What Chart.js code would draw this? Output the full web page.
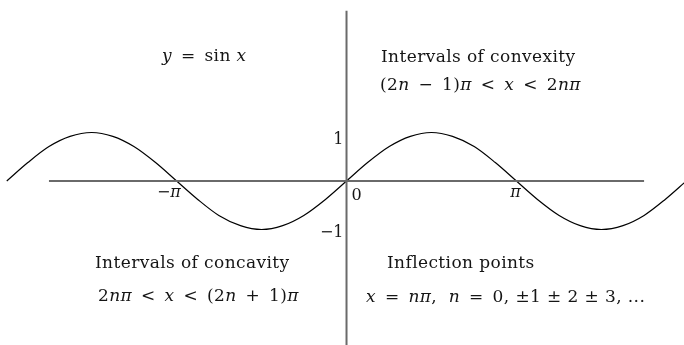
<!DOCTYPE html>
<html>
<head>
<meta charset="utf-8">
<script src="https://cdn.jsdelivr.net/npm/chart.js"></script>
<style>
  html, body { margin: 0; padding: 0; background: #fff; }
  canvas { display: block; }
</style>
</head>
<body>
<canvas id="sineChart" width="684" height="345"></canvas>
<script>
// curve y = sin x, read at pi/8 steps
var curveX = [-6.28, -5.89, -5.50, -5.11, -4.71, -4.32, -3.93, -3.53, -3.14, -2.75, -2.36, -1.96, -1.57, -1.18, -0.79, -0.39,
              0, 0.39, 0.79, 1.18, 1.57, 1.96, 2.36, 2.75, 3.14, 3.53, 3.93, 4.32, 4.71, 5.11, 5.50, 5.89, 6.28];
var curveY = [0, 0.38, 0.71, 0.92, 1, 0.92, 0.71, 0.38, 0, -0.38, -0.71, -0.92, -1, -0.92, -0.71, -0.38,
              0, 0.38, 0.71, 0.92, 1, 0.92, 0.71, 0.38, 0, -0.38, -0.71, -0.92, -1, -0.92, -0.71, -0.38, 0];

// drawn axis extents (data units)
var xAxisEnds = [-5.5, 5.5];
var yAxisEnds = [3.51, -3.4];

// tick labels
var xTickValues = [-3.14159, 0, 3.14159];
var xTickLabels = ['−{π}', '0', '{π}'];
var yTickValues = [1, -1];
var yTickLabels = ['1', '−1'];

// annotation lines ({...} = italic, \u2002 = math spacing)
var noteLines = [
    '{y}\u2002=\u2002sin {x}',
    'Intervals of convexity',
    '(2{n}\u2002−\u20021){π}\u2002<\u2002{x}\u2002<\u20022{nπ}',
    'Intervals of concavity',
    '2{nπ}\u2002<\u2002{x}\u2002<\u2002(2{n}\u2002+\u20021){π}',
    'Inflection points',
    '{x}\u2002=\u2002{nπ},  {n}\u2002=\u20020, ±1 ± 2 ± 3, ...'
];

var FAMILY = '"DejaVu Serif", "Liberation Serif", serif';

function setFont(ctx, italic, size) {
    ctx.font = (italic ? 'italic ' : '') + size + 'px ' + FAMILY;
}

function mathWidth(ctx, text, size) {
    var w = 0;
    text.split(/(\{[^}]*\})/).forEach(function (part) {
        if (!part) return;
        var italic = part.charAt(0) === '{';
        var s = italic ? part.slice(1, -1) : part;
        setFont(ctx, italic, size);
        w += ctx.measureText(s).width;
    });
    return w;
}

function drawMath(ctx, text, x, y, size) {
    ctx.textAlign = 'left';
    ctx.fillStyle = '#151515';
    text.split(/(\{[^}]*\})/).forEach(function (part) {
        if (!part) return;
        var italic = part.charAt(0) === '{';
        var s = italic ? part.slice(1, -1) : part;
        setFont(ctx, italic, size);
        ctx.fillText(s, x, y);
        x += ctx.measureText(s).width;
    });
}

var labelPlugin = {
    id: 'labels',
    afterDatasetsDraw: function (chart) {
        var ctx = chart.ctx;
        var xs = chart.scales.x, ys = chart.scales.y;
        var ox = xs.getPixelForValue(0), oy = ys.getPixelForValue(0);
        ctx.save();
        ctx.textBaseline = 'alphabetic';

        // x tick labels below the axis
        xTickValues.forEach(function (v, i) {
            var lab = xTickLabels[i];
            var px = xs.getPixelForValue(v);
            if (v === 0) {
                drawMath(ctx, lab, px + 5, oy + 19, 16);
            } else {
                var w = mathWidth(ctx, lab, 16);
                var last = mathWidth(ctx, '{π}', 16);
                drawMath(ctx, lab, px - w + last / 2 - 1, oy + 16, 16);
            }
        });

        // y tick labels left of the axis
        yTickValues.forEach(function (v, i) {
            var lab = yTickLabels[i];
            var py = ys.getPixelForValue(v);
            var w = mathWidth(ctx, lab, 16);
            drawMath(ctx, lab, ox - 3 - w, py + (v > 0 ? 11 : 7), 16);
        });

        // text notes
        if ('letterSpacing' in ctx) ctx.letterSpacing = '0.4px';
        var spots = [[162, 61], [381, 62], [380, 90], [95, 268], [98, 301], [387, 268], [366, 302]];
        noteLines.forEach(function (t, i) {
            drawMath(ctx, t, spots[i][0], spots[i][1], 17);
        });
        ctx.restore();
    }
};

function pts(xv, yv) {
    return xv.map(function (x, i) { return { x: x, y: yv[i] }; });
}

var ctx = document.getElementById('sineChart').getContext('2d');
new Chart(ctx, {
    type: 'scatter',
    data: {
        datasets: [{
            data: pts(xAxisEnds, [0, 0]),
            showLine: true,
            borderColor: '#6a6a6a',
            borderWidth: 2,
            pointRadius: 0
        }, {
            data: pts([0, 0], yAxisEnds),
            showLine: true,
            borderColor: '#6a6a6a',
            borderWidth: 2,
            pointRadius: 0
        }, {
            data: pts(curveX, curveY),
            showLine: true,
            borderColor: '#000',
            borderWidth: 1.2,
            pointRadius: 0,
            cubicInterpolationMode: 'monotone'
        }]
    },
    options: {
        responsive: false,
        animation: false,
        devicePixelRatio: 1,
        layout: { padding: 0 },
        scales: {
            x: { type: 'linear', min: -6.405, max: 6.238, display: false },
            y: { type: 'linear', min: -3.381, max: 3.732, display: false }
        },
        plugins: {
            legend: { display: false },
            tooltip: { enabled: false }
        }
    },
    plugins: [labelPlugin]
});
</script>
</body>
</html>
